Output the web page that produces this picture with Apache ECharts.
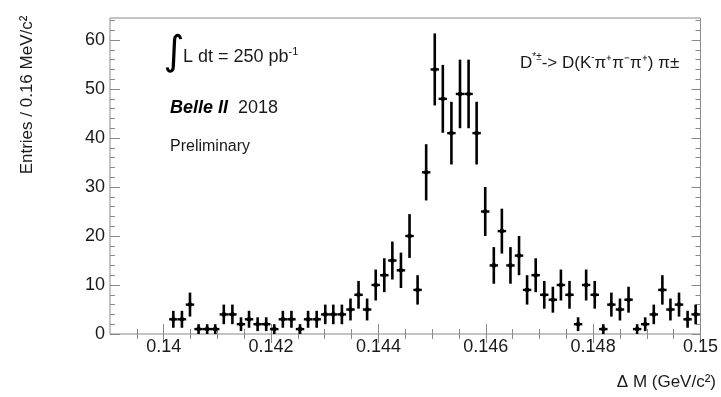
<!DOCTYPE html>
<html><head><meta charset="utf-8">
<script src="https://cdn.jsdelivr.net/npm/echarts@6/dist/echarts.min.js"></script>
<style>html,body{margin:0;padding:0;background:#fff}#c{width:721px;height:397px}</style>
</head><body><div id="c"></div>
<script>
// Bin centres (GeV/c^2)
const binCenters = [
  0.14018,0.14034,0.14049,0.14065,0.14081,0.14096,0.14112,0.14128,0.14144,0.14159,
  0.14175,0.14191,0.14206,0.14222,0.14238,0.14254,0.14269,0.14285,0.14301,0.14316,
  0.14332,0.14348,0.14363,0.14379,0.14395,0.14411,0.14426,0.14442,0.14458,0.14473,
  0.14489,0.14505,0.14520,0.14536,0.14552,0.14568,0.14583,0.14599,0.14615,0.14630,
  0.14646,0.14662,0.14677,0.14693,0.14709,0.14725,0.14740,0.14756,0.14772,0.14787,
  0.14803,0.14819,0.14834,0.14850,0.14866,0.14882,0.14897,0.14913,0.14929,0.14944,
  0.14960,0.14976,0.14991
];
// Entries per bin
const entries = [
  3,3,6,1,1,1,4,4,2,3,
  2,2,1,3,3,1,3,3,4,4,
  4,5,8,5,10,12,15,13,20,9,
  33,54,48,41,49,49,41,25,14,21,
  14,16,9,12,8,7,10,8,2,10,
  8,1,6,5,7,1,2,4,9,5,
  6,3,4
];
// Error bar half-lengths
const errors = [
  1.73,1.73,2.45,1,1,1,2,2,1.41,1.73,
  1.41,1.41,1,1.73,1.73,1,1.73,1.73,2,2,
  2,2.24,2.83,2.24,3.16,3.46,3.87,3.61,4.47,3,
  5.74,7.35,6.93,6.40,7,7,6.40,5,3.74,4.58,
  3.74,4,3,3.46,2.83,2.65,3.16,2.83,1.41,3.16,
  2.83,1,2.45,2.24,2.65,1,1.41,2,3,2.24,
  2.45,1.73,2
];
const xMajorTicks = [0.14,0.142,0.144,0.146,0.148,0.15];
const xMinorTicks = [0.1395,0.14,0.1405,0.141,0.1415,0.142,0.1425,0.143,0.1435,0.144,0.1445,0.145,0.1455,0.146,0.1465,0.147,0.1475,0.148,0.1485,0.149,0.1495];
const yMajorTicks = [0,10,20,30,40,50,60];
const yMinorTicks = [2,4,6,8,12,14,16,18,22,24,26,28,32,34,36,38,42,44,46,48,52,54,56,58,62,64];

const FONT = '"Liberation Sans", Arial, Helvetica, sans-serif';
const XMIN = 0.139, XMAX = 0.15, YMIN = 0, YMAX = 64.5;
const HALF_BIN = 0.0000785;
const frameColor = '#8a8a8a';

function xAx(pos, ticks, len, labels) {
  return {
    type: 'value', position: pos, min: XMIN, max: XMAX, gridIndex: 0,
    axisLine: { show: false },
    splitLine: { show: false },
    axisTick: { show: true, inside: true, length: len, customValues: ticks, lineStyle: { color: frameColor, width: 1 } },
    axisLabel: labels ? {
      show: true, customValues: xMajorTicks, margin: 4,
      fontFamily: FONT, fontSize: 18, color: '#1a1a1a',
      formatter: v => String(+(+v).toFixed(3))
    } : { show: false }
  };
}
function yAx(pos, ticks, len, labels) {
  return {
    type: 'value', position: pos, min: YMIN, max: YMAX, gridIndex: 0,
    axisLine: { show: false },
    splitLine: { show: false },
    axisTick: { show: true, inside: true, length: len, customValues: ticks, lineStyle: { color: frameColor, width: 1 } },
    axisLabel: labels ? {
      show: true, customValues: yMajorTicks, margin: 5,
      fontFamily: FONT, fontSize: 18, color: '#1a1a1a'
    } : { show: false }
  };
}

const chart = echarts.init(document.getElementById('c'), null, { renderer: 'canvas' });
chart.setOption({
  animation: false,
  backgroundColor: '#fff',
  grid: { left: 110, right: 14, top: 18, bottom: 63, show: true, borderColor: frameColor, borderWidth: 1, backgroundColor: 'transparent' },
  xAxis: [
    xAx('bottom', xMajorTicks, 10, true),
    xAx('bottom', xMinorTicks, 5, false),
    xAx('top', xMajorTicks, 9, false),
    xAx('top', xMinorTicks, 5, false)
  ],
  yAxis: [
    yAx('left', yMajorTicks, 10, true),
    yAx('left', yMinorTicks, 5, false),
    yAx('right', yMajorTicks, 9, false),
    yAx('right', yMinorTicks, 5, false)
  ],
  series: [{
    type: 'custom', xAxisIndex: 0, yAxisIndex: 0,
    data: binCenters.map((x, i) => [x, entries[i], errors[i]]),
    renderItem: function (params, api) {
      const x = api.value(0), y = api.value(1), e = api.value(2);
      const c = api.coord([x, y]);
      const lo = api.coord([x, Math.max(0, y - e)]);
      const hi = api.coord([x, y + e]);
      const l = api.coord([x - HALF_BIN, y]);
      const r = api.coord([x + HALF_BIN, y]);
      return {
        type: 'group', children: [
          { type: 'line', shape: { x1: c[0], y1: lo[1], x2: c[0], y2: hi[1] }, style: { stroke: '#000', lineWidth: 2.6 } },
          { type: 'line', shape: { x1: l[0], y1: c[1], x2: r[0], y2: c[1] }, style: { stroke: '#000', lineWidth: 2.4 } },
          { type: 'circle', shape: { cx: c[0], cy: c[1], r: 2.3 }, style: { fill: '#000' } }
        ]
      };
    }
  }],
  graphic: [
    { type: 'text', x: 27, y: 95, rotation: Math.PI / 2,
      style: { text: 'Entries / 0.16 MeV/c²', fontFamily: FONT, fontSize: 17, fill: '#1a1a1a', align: 'center', verticalAlign: 'middle' } },
    { type: 'text', x: 716, y: 382,
      style: { text: 'Δ M (GeV/c²)', fontFamily: FONT, fontSize: 17, fill: '#1a1a1a', align: 'right', verticalAlign: 'middle' } },
    { type: 'text', x: 174, y: 54,
      style: { text: '∫', fontFamily: '"DejaVu Sans", sans-serif', fontSize: 40, fill: '#000', align: 'center', verticalAlign: 'middle' } },
    { type: 'text', x: 183, y: 57,
      style: { text: 'L dt = 250 pb{s|-1}', fontFamily: FONT, fontSize: 18, fill: '#1a1a1a', align: 'left', verticalAlign: 'middle', lineHeight: 22,
        rich: { s: { fontSize: 11, fontFamily: FONT, verticalAlign: 'top', lineHeight: 11, fill: '#1a1a1a' } } } },
    { type: 'text', x: 170, y: 108,
      style: { text: '{b|Belle II}  2018', fontFamily: FONT, fontSize: 18, fill: '#1a1a1a', align: 'left', verticalAlign: 'middle',
        rich: { b: { fontFamily: FONT, fontSize: 18, fontWeight: 'bold', fontStyle: 'italic', fill: '#000' } } } },
    { type: 'text', x: 170, y: 147,
      style: { text: 'Preliminary', fontFamily: FONT, fontSize: 16, fill: '#1a1a1a', align: 'left', verticalAlign: 'middle' } },
    { type: 'text', x: 520, y: 63,
      style: { text: 'D{s|*±}-> D(K{s|-}π⁺π⁻π⁺) π±', fontFamily: FONT, fontSize: 17, fill: '#1a1a1a', align: 'left', verticalAlign: 'middle', lineHeight: 22,
        rich: { s: { fontSize: 10, fontFamily: FONT, verticalAlign: 'top', lineHeight: 10, fill: '#1a1a1a' } } } }
  ]
});
</script>
</body></html>
